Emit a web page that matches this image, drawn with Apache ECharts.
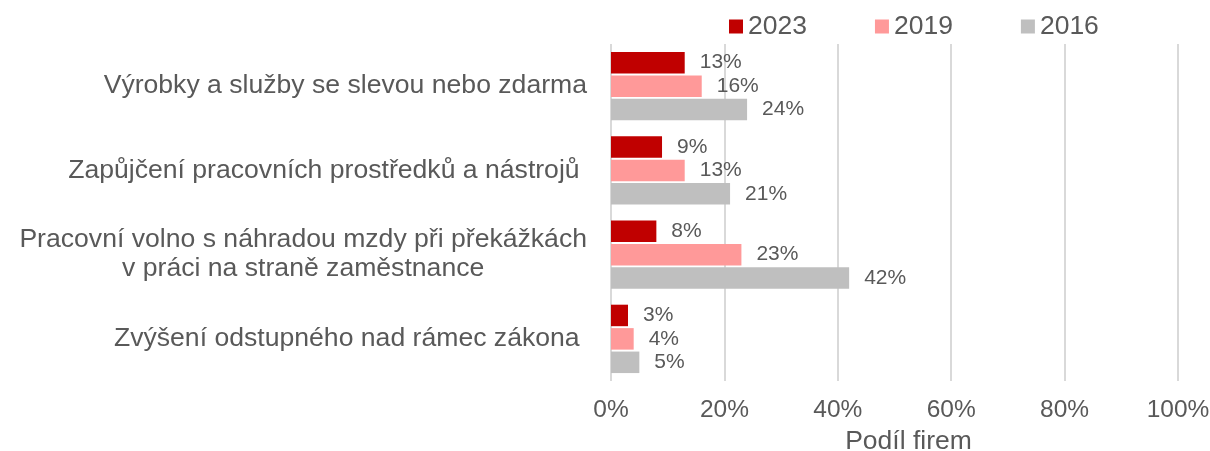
<!DOCTYPE html>
<html>
<head>
<meta charset="utf-8">
<script src="https://cdn.jsdelivr.net/npm/echarts@6/dist/echarts.min.js"></script>
<style>
  html, body { margin: 0; padding: 0; background: #fff; }
  #chart { width: 1210px; height: 451px; }
</style>
</head>
<body>
<div id="chart"></div>
<script>
const categories = [
    'Výrobky a služby se slevou nebo zdarma',
    'Zapůjčení pracovních prostředků a nástrojů ',
    'Pracovní volno s náhradou mzdy při překážkách\nv práci na straně zaměstnance',
    'Zvýšení odstupného nad rámec zákona '
];
const years = ['2023', '2019', '2016'];
const values2023 = [13, 9, 8, 3];
const values2019 = [16, 13, 23, 4];
const values2016 = [24, 21, 42, 5];
const colors = ['#c00000', '#ff9999', '#bfbfbf'];
const xTicks = [0, 20, 40, 60, 80, 100];

const FONT = 'Liberation Sans, Arial, sans-serif';
const TEXT = '#595959';

const seriesData = [values2023, values2019, values2016];
const chartSeries = years.map((year, i) => ({
    name: year,
    type: 'bar',
    data: seriesData[i],
    barWidth: 21.5,
    barGap: '9%',
    itemStyle: {color: colors[i]},
    label: {
        show: true,
        position: 'right',
        distance: 15,
        formatter: '{c}%',
        color: TEXT,
        fontSize: 21,
        fontFamily: FONT
    }
}));

const chart = echarts.init(document.getElementById('chart'));
chart.setOption({
    animation: false,
    textStyle: {fontFamily: FONT},
    legend: {
        left: 724,
        top: 8,
        itemWidth: 14,
        itemHeight: 14,
        itemGap: 68,
        icon: 'rect',
        textStyle: {color: TEXT, fontSize: 26.5, fontFamily: FONT},
        data: years
    },
    grid: {left: 611, right: 32, top: 44, bottom: 70, outerBoundsMode: 'none', containLabel: false},
    xAxis: {
        type: 'value',
        min: xTicks[0],
        max: xTicks[xTicks.length - 1],
        interval: 20,
        name: 'Podíl firem',
        nameLocation: 'middle',
        nameGap: 44,
        nameTextStyle: {color: TEXT, fontSize: 26.5, fontFamily: FONT, padding: [0, 0, 0, 28]},
        axisLine: {show: false},
        axisTick: {show: false},
        axisLabel: {color: TEXT, fontSize: 24.5, margin: 17, formatter: '{value}%', fontFamily: FONT},
        splitLine: {show: true, lineStyle: {color: '#d9d9d9', width: 2}}
    },
    yAxis: {
        type: 'category',
        inverse: true,
        data: categories,
        axisLine: {show: false},
        axisTick: {show: false},
        axisLabel: {
            margin: 24,
            color: TEXT,
            fontSize: 26.6,
            lineHeight: 29,
            fontFamily: FONT,
            formatter: (v) => v.split('\n').map(s => '{c|' + s + '}').join('\n'),
            rich: {c: {align: 'center', color: TEXT, fontSize: 26.6, lineHeight: 29, fontFamily: FONT}}
        }
    },
    series: chartSeries
});
</script>
</body>
</html>
